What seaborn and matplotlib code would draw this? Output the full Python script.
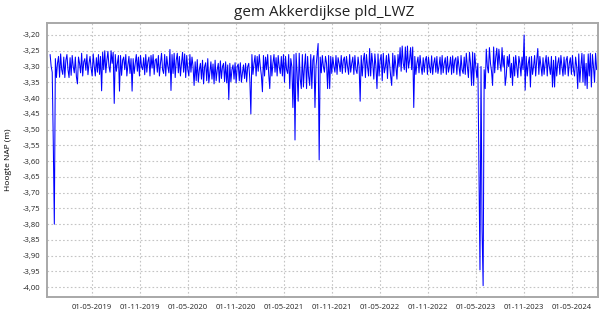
import matplotlib
matplotlib.use("Agg")
import matplotlib.pyplot as plt
import matplotlib.dates as mdates
from matplotlib.ticker import FuncFormatter, MultipleLocator
import seaborn as sns
import pandas as pd

title = "gem Akkerdijkse pld_LWZ"
ylabel = "Hoogte NAP (m)"
start_date = "2018-11-24"
step_days = 4

levels = [
    -3.262, -3.30, -3.318, -3.54, -3.80, -3.275, -3.335, -3.29, -3.268, -3.334,
    -3.26, -3.31, -3.325, -3.27, -3.335, -3.28, -3.262, -3.31, -3.335, -3.272,
    -3.328, -3.265, -3.30, -3.32, -3.27, -3.332, -3.355, -3.27, -3.29, -3.32,
    -3.258, -3.33, -3.285, -3.275, -3.312, -3.262, -3.326, -3.29, -3.268, -3.305,
    -3.33, -3.26, -3.30, -3.33, -3.272, -3.318, -3.262, -3.325, -3.268, -3.377,
    -3.255, -3.31, -3.25, -3.32, -3.28, -3.252, -3.30, -3.318, -3.25, -3.29,
    -3.255, -3.417, -3.262, -3.315, -3.29, -3.265, -3.378, -3.265, -3.328, -3.28,
    -3.27, -3.31, -3.262, -3.33, -3.295, -3.268, -3.322, -3.275, -3.378, -3.275,
    -3.322, -3.29, -3.262, -3.315, -3.27, -3.33, -3.265, -3.30, -3.31, -3.272,
    -3.326, -3.262, -3.318, -3.285, -3.27, -3.33, -3.265, -3.305, -3.262, -3.325,
    -3.28, -3.275, -3.318, -3.265, -3.33, -3.29, -3.258, -3.31, -3.322, -3.262,
    -3.33, -3.268, -3.30, -3.32, -3.246, -3.376, -3.262, -3.322, -3.258, -3.335,
    -3.28, -3.258, -3.32, -3.268, -3.33, -3.29, -3.255, -3.318, -3.26, -3.335,
    -3.265, -3.31, -3.33, -3.262, -3.318, -3.27, -3.30, -3.36, -3.285, -3.345,
    -3.278, -3.35, -3.31, -3.29, -3.34, -3.28, -3.355, -3.30, -3.288, -3.345,
    -3.275, -3.352, -3.32, -3.285, -3.34, -3.292, -3.355, -3.28, -3.345, -3.31,
    -3.29, -3.35, -3.282, -3.338, -3.30, -3.29, -3.348, -3.285, -3.352, -3.295,
    -3.405, -3.29, -3.348, -3.31, -3.295, -3.34, -3.288, -3.352, -3.30, -3.292,
    -3.345, -3.288, -3.35, -3.32, -3.295, -3.338, -3.29, -3.348, -3.30, -3.29,
    -3.34, -3.45, -3.262, -3.325, -3.29, -3.265, -3.33, -3.268, -3.315, -3.262,
    -3.30, -3.328, -3.38, -3.265, -3.33, -3.27, -3.31, -3.262, -3.325, -3.37,
    -3.265, -3.33, -3.29, -3.262, -3.318, -3.272, -3.33, -3.265, -3.30, -3.322,
    -3.268, -3.33, -3.262, -3.35, -3.268, -3.31, -3.322, -3.262, -3.37, -3.275,
    -3.30, -3.43, -3.262, -3.533, -3.258, -3.32, -3.41, -3.258, -3.34, -3.37,
    -3.262, -3.365, -3.30, -3.26, -3.37, -3.268, -3.33, -3.36, -3.262, -3.37,
    -3.28, -3.265, -3.43, -3.30, -3.265, -3.227, -3.596, -3.27, -3.32, -3.265,
    -3.30, -3.318, -3.268, -3.29, -3.37, -3.265, -3.37, -3.268, -3.322, -3.27,
    -3.30, -3.318, -3.265, -3.325, -3.272, -3.29, -3.316, -3.265, -3.322, -3.28,
    -3.27, -3.318, -3.268, -3.30, -3.325, -3.262, -3.318, -3.29, -3.27, -3.325,
    -3.265, -3.31, -3.322, -3.27, -3.30, -3.41, -3.265, -3.33, -3.28, -3.258,
    -3.335, -3.262, -3.30, -3.33, -3.243, -3.33, -3.258, -3.29, -3.34, -3.26,
    -3.30, -3.37, -3.26, -3.33, -3.28, -3.262, -3.345, -3.258, -3.32, -3.30,
    -3.265, -3.338, -3.26, -3.29, -3.33, -3.36, -3.258, -3.33, -3.265, -3.30,
    -3.34, -3.262, -3.30, -3.24, -3.315, -3.235, -3.29, -3.31, -3.238, -3.318,
    -3.235, -3.305, -3.28, -3.24, -3.31, -3.238, -3.43, -3.268, -3.325, -3.29,
    -3.27, -3.32, -3.265, -3.30, -3.325, -3.272, -3.318, -3.28, -3.268, -3.325,
    -3.27, -3.30, -3.32, -3.266, -3.325, -3.29, -3.272, -3.318, -3.268, -3.322,
    -3.30, -3.27, -3.325, -3.265, -3.32, -3.29, -3.272, -3.325, -3.268, -3.318,
    -3.30, -3.27, -3.325, -3.266, -3.32, -3.28, -3.272, -3.325, -3.268, -3.30,
    -3.33, -3.265, -3.31, -3.322, -3.27, -3.325, -3.258, -3.30, -3.335, -3.255,
    -3.29, -3.36, -3.255, -3.36, -3.258, -3.30, -3.335, -3.29, -3.62, -3.945,
    -3.30, -3.82, -3.995, -3.31, -3.37, -3.245, -3.30, -3.32, -3.24, -3.29,
    -3.315, -3.36, -3.238, -3.32, -3.27, -3.242, -3.31, -3.245, -3.29, -3.315,
    -3.24, -3.30, -3.265, -3.36, -3.33, -3.268, -3.30, -3.262, -3.335, -3.29,
    -3.36, -3.27, -3.33, -3.265, -3.30, -3.335, -3.268, -3.29, -3.33, -3.27,
    -3.31, -3.20, -3.375, -3.268, -3.33, -3.29, -3.27, -3.365, -3.268, -3.325,
    -3.30, -3.265, -3.33, -3.28, -3.243, -3.325, -3.268, -3.30, -3.33, -3.272,
    -3.325, -3.29, -3.265, -3.33, -3.27, -3.30, -3.325, -3.268, -3.365, -3.28,
    -3.365, -3.268, -3.33, -3.29, -3.272, -3.325, -3.265, -3.30, -3.33, -3.27,
    -3.325, -3.28, -3.268, -3.33, -3.29, -3.272, -3.325, -3.265, -3.31, -3.33,
    -3.27, -3.30, -3.37, -3.26, -3.35, -3.30, -3.258, -3.35, -3.262, -3.36,
    -3.29, -3.37, -3.26, -3.33, -3.258, -3.365, -3.262, -3.30, -3.35, -3.258,
    -3.31,
]

dates = pd.date_range(start_date, periods=len(levels), freq=f"{step_days}D")
df = pd.DataFrame({"datum": dates, "niveau": levels})

sns.set_style("white")
plt.rcParams["font.family"] = ["Open Sans", "DejaVu Sans"]

fig = plt.figure(figsize=(6.12, 3.10), dpi=100)
ax = fig.add_axes([0.0776, 0.0429, 0.899, 0.8839])

sns.lineplot(data=df, x="datum", y="niveau", ax=ax, color="#0000ff", linewidth=0.75)

ax.set_xlim(pd.Timestamp("2018-11-14"), pd.Timestamp("2024-08-08"))
ax.set_ylim(-4.030, -3.161)

ax.xaxis.set_major_locator(mdates.MonthLocator(bymonth=[5, 11]))
ax.xaxis.set_major_formatter(mdates.DateFormatter("%d-%m-%Y"))
ax.yaxis.set_major_locator(MultipleLocator(0.05))
ax.yaxis.set_major_formatter(FuncFormatter(lambda v, p: f"{v:.2f}".replace(".", ",")))

ax.grid(True, linestyle=(0, (1.5, 2)), color="#c4c4c4", linewidth=0.8)
for s in ax.spines.values():
    s.set_color("#a8a8a8")
    s.set_linewidth(1.4)

ax.tick_params(axis="both", which="major", labelsize=5.5, labelcolor="#222222",
               color="#888888", length=2.5, width=0.7, pad=2.5, direction="out")
ax.set_xlabel("")
ax.set_ylabel(ylabel, fontsize=6, color="#000000", labelpad=8)

fig.suptitle(title, fontsize=11, x=0.53, y=0.985, color="#222222")

fig.savefig("out.png", dpi=100)
